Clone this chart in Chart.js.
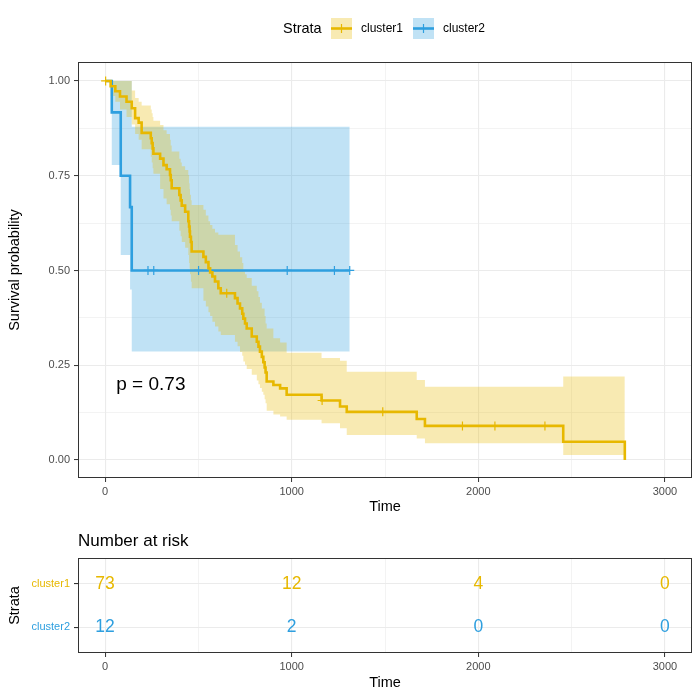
<!DOCTYPE html>
<html>
<head>
<meta charset="utf-8">
<script src="https://cdn.jsdelivr.net/npm/chart.js@4.4.1/dist/chart.umd.min.js"></script>
<style>
  body { margin: 0; background: #fff; }
  #wrap { position: relative; width: 700px; height: 700px; }
  canvas { position: absolute; left: 0; }
</style>
</head>
<body>
<div id="wrap">
  <canvas id="km" width="700" height="520" style="top:0"></canvas>
  <canvas id="risk" width="700" height="180" style="top:520px"></canvas>
</div>
<script>
// strata + colours
const strata = ['cluster1', 'cluster2'];
const colors = ['#E7B800', '#2E9FDF'];
const bands = ['rgba(231,184,0,0.3)', 'rgba(46,159,223,0.3)'];

// cluster1 KM curve (time, survival, 95% CI)
const c1Time  = [0,30,55,80,115,143,161,180,196,245,250,255,259,295,313,330,348,352,357,398,405,411,429,446,450,453,455,460,464,527,540,554,563,575,589,607,620,696,710,723,735,741,750,759,786,813,822,830,840,848,855,860,866,902,938,973,1160,1259,1295,1670,1714,2455,2785];
const c1Surv  = [1,0.986,0.973,0.959,0.945,0.928,0.902,0.89,0.863,0.849,0.836,0.822,0.808,0.795,0.778,0.767,0.752,0.738,0.717,0.699,0.685,0.671,0.655,0.63,0.616,0.603,0.589,0.575,0.55,0.536,0.522,0.506,0.495,0.484,0.471,0.453,0.44,0.427,0.413,0.4,0.386,0.373,0.36,0.347,0.326,0.312,0.299,0.286,0.272,0.258,0.244,0.231,0.207,0.198,0.189,0.172,0.157,0.141,0.127,0.108,0.09,0.048,0];
const c1Upper = [1,1,1,1,1,0.975,0.955,0.945,0.935,0.925,0.915,0.905,0.895,0.884,0.87,0.86,0.845,0.83,0.814,0.795,0.785,0.775,0.765,0.752,0.73,0.715,0.7,0.685,0.673,0.66,0.645,0.63,0.62,0.61,0.6,0.594,0.594,0.567,0.55,0.535,0.52,0.497,0.49,0.48,0.46,0.445,0.43,0.415,0.4,0.4,0.38,0.36,0.347,0.321,0.31,0.283,0.269,0.262,0.233,0.211,0.193,0.22,0.22];
const c1Lower = [1,0.96,0.945,0.925,0.905,0.885,0.86,0.845,0.82,0.8,0.785,0.77,0.755,0.715,0.69,0.675,0.66,0.645,0.63,0.605,0.59,0.575,0.56,0.541,0.52,0.505,0.49,0.47,0.453,0.42,0.405,0.39,0.38,0.365,0.352,0.339,0.33,0.312,0.3,0.285,0.275,0.26,0.251,0.24,0.225,0.21,0.2,0.19,0.18,0.172,0.16,0.15,0.13,0.12,0.115,0.106,0.097,0.084,0.066,0.057,0.044,0.013,0.013];
const c1Censor = [3,652,1163,1488,1915,2089,2357];

// cluster2 KM curve
const c2Time  = [0,36,84,134,143,1311];
const c2Surv  = [1,0.917,0.75,0.667,0.5,0.5];
const c2Upper = [1,1,1,1,0.879,0.879];
const c2Lower = [1,0.778,0.541,0.45,0.286,0.286];
const c2Censor = [230,261,501,976,1229,1311];

// number at risk table
const riskTimes = [0,1000,2000,3000];
const risk1 = [73,12,4,0];
const risk2 = [12,2,0,0];

const xTicks = [0,500,1000,1500,2000,2500,3000];
const yTicks = [0,0.125,0.25,0.375,0.5,0.625,0.75,0.875,1];
const pValue = 'p = 0.73';

const FONT = '"Liberation Sans", Arial, Helvetica, sans-serif';

function survAt(times, surv, t) {
  let v = surv[0];
  for (let i = 0; i < times.length; i++) if (times[i] <= t) v = surv[i];
  return v;
}
const pts = (xs, ys) => xs.map((x, i) => ({x: x, y: ys[i]}));
const isMajorX = v => v % 1000 === 0;
const isMajorY = v => Math.abs(v * 4 - Math.round(v * 4)) < 1e-9;

const curves = [
  {time: c1Time, surv: c1Surv, up: c1Upper, lo: c1Lower, cens: c1Censor},
  {time: c2Time, surv: c2Surv, up: c2Upper, lo: c2Lower, cens: c2Censor}
];

const datasets = [];
curves.forEach((c, k) => {
  datasets.push({
    data: pts(c.time, c.up), stepped: 'before', fill: '+1',
    backgroundColor: bands[k], borderColor: 'transparent', borderWidth: 0,
    pointRadius: 0, order: 3
  });
  datasets.push({
    data: pts(c.time, c.lo), stepped: 'before', fill: false,
    borderColor: 'transparent', borderWidth: 0, pointRadius: 0, order: 3
  });
});
curves.forEach((c, k) => {
  datasets.push({
    data: pts(c.time, c.surv), stepped: 'before', fill: false,
    borderColor: colors[k], borderWidth: 2.6, pointRadius: 0, order: 1
  });
  datasets.push({
    data: c.cens.map(t => ({x: t, y: survAt(c.time, c.surv, t)})),
    showLine: false, pointStyle: 'cross', pointRadius: 4.5,
    pointBorderWidth: 1.2, borderColor: colors[k], backgroundColor: colors[k], order: 0
  });
});

function gridOpts(isMajor) {
  return {
    color: '#EBEBEB',
    lineWidth: ctx => (ctx.tick && !isMajor(ctx.tick.value)) ? 0.6 : 1.1,
    drawTicks: true,
    tickLength: 4,
    tickColor: ctx => (ctx.tick && !isMajor(ctx.tick.value)) ? 'rgba(0,0,0,0)' : '#333333',
    tickWidth: 1
  };
}

const frame = {
  id: 'frame',
  afterDraw(chart) {
    const a = chart.chartArea, ctx = chart.ctx;
    ctx.save();
    ctx.strokeStyle = '#333333';
    ctx.lineWidth = 1;
    ctx.strokeRect(Math.round(a.left) + 0.5, Math.round(a.top) + 0.5,
      Math.round(a.right - a.left) - 1, Math.round(a.bottom - a.top) - 1);
    ctx.restore();
  }
};

const kmExtras = {
  id: 'kmExtras',
  afterDraw(chart) {
    const ctx = chart.ctx, xs = chart.scales.x, ys = chart.scales.y;
    ctx.save();
    // p-value
    ctx.fillStyle = '#000';
    ctx.font = '19px ' + FONT;
    ctx.textAlign = 'left';
    ctx.textBaseline = 'middle';
    ctx.fillText(pValue, xs.getPixelForValue(60), ys.getPixelForValue(0.198));
    // legend
    ctx.font = '14.5px ' + FONT;
    ctx.fillText('Strata', 283, 29);
    let x = 331;
    strata.forEach((s, k) => {
      ctx.fillStyle = bands[k];
      ctx.fillRect(x, 18, 21, 21);
      ctx.strokeStyle = colors[k];
      ctx.lineWidth = 2.6;
      ctx.beginPath(); ctx.moveTo(x, 28.5); ctx.lineTo(x + 21, 28.5); ctx.stroke();
      ctx.lineWidth = 1.2;
      ctx.beginPath(); ctx.moveTo(x + 10.5, 24); ctx.lineTo(x + 10.5, 33); ctx.stroke();
      ctx.fillStyle = '#000';
      ctx.font = '12px ' + FONT;
      ctx.fillText(s, x + 30, 29);
      x += 82;
    });
    ctx.restore();
  }
};

new Chart(document.getElementById('km'), {
  type: 'line',
  data: {datasets: datasets},
  options: {
    responsive: false, animation: false, devicePixelRatio: 1,
    layout: {padding: {top: 62, right: 8, left: 0, bottom: 0}},
    plugins: {legend: {display: false}, tooltip: {enabled: false}, filler: {propagate: false}},
    scales: {
      x: {
        type: 'linear', min: -145, max: 3145,
        afterBuildTicks: s => { s.ticks = xTicks.map(v => ({value: v})); },
        afterFit: s => { s.height = 42; },
        grid: gridOpts(isMajorX),
        border: {display: false},
        ticks: {
          color: '#4D4D4D', font: {size: 11, family: FONT}, padding: 3,
          maxRotation: 0, autoSkip: false,
          callback: v => isMajorX(v) ? String(v) : ''
        },
        title: {display: true, text: 'Time', color: '#000', font: {size: 14.5, family: FONT}, padding: {top: 0, bottom: 4.5}}
      },
      y: {
        type: 'linear', min: -0.0475, max: 1.05,
        afterBuildTicks: s => { s.ticks = yTicks.map(v => ({value: v})); },
        afterFit: s => { s.width = 78; },
        grid: gridOpts(isMajorY),
        border: {display: false},
        ticks: {
          color: '#4D4D4D', font: {size: 11, family: FONT}, padding: 4,
          callback: v => isMajorY(v) ? v.toFixed(2) : ''
        },
        title: {display: true, text: 'Survival probability', color: '#000', font: {size: 14.5, family: FONT}, padding: {top: 6.5, bottom: 0}}
      }
    }
  },
  plugins: [frame, kmExtras]
});

// risk table
const riskRows = [risk1, risk2];
const riskExtras = {
  id: 'riskExtras',
  afterDraw(chart) {
    const ctx = chart.ctx, xs = chart.scales.x, ys = chart.scales.y;
    ctx.save();
    ctx.fillStyle = '#000';
    ctx.font = '17px ' + FONT;
    ctx.textAlign = 'left';
    ctx.textBaseline = 'middle';
    ctx.fillText('Number at risk', chart.chartArea.left, 21);
    ctx.font = '17.5px ' + FONT;
    ctx.textAlign = 'center';
    riskRows.forEach((row, k) => {
      ctx.fillStyle = colors[k];
      row.forEach((n, i) => {
        ctx.fillText(String(n), xs.getPixelForValue(riskTimes[i]), ys.getPixelForValue(2 - k));
      });
    });
    ctx.restore();
  }
};

new Chart(document.getElementById('risk'), {
  type: 'scatter',
  data: {datasets: [{data: [], pointRadius: 0}]},
  options: {
    responsive: false, animation: false, devicePixelRatio: 1,
    layout: {padding: {top: 38, right: 8, left: 0, bottom: 0}},
    plugins: {legend: {display: false}, tooltip: {enabled: false}},
    scales: {
      x: {
        type: 'linear', min: -145, max: 3145,
        afterBuildTicks: s => { s.ticks = xTicks.map(v => ({value: v})); },
        afterFit: s => { s.height = 47; },
        grid: gridOpts(isMajorX),
        border: {display: false},
        ticks: {
          color: '#4D4D4D', font: {size: 11, family: FONT}, padding: 3,
          maxRotation: 0, autoSkip: false,
          callback: v => isMajorX(v) ? String(v) : ''
        },
        title: {display: true, text: 'Time', color: '#000', font: {size: 14.5, family: FONT}, padding: {top: 0, bottom: 8.5}}
      },
      y: {
        type: 'linear', min: 0.4, max: 2.6,
        afterBuildTicks: s => { s.ticks = [1, 2].map(v => ({value: v})); },
        afterFit: s => { s.width = 78; },
        grid: {color: '#EBEBEB', lineWidth: 1.1, tickLength: 4, tickColor: '#333333'},
        border: {display: false},
        ticks: {
          color: ctx => colors[2 - ctx.tick.value], font: {size: 11, family: FONT}, padding: 4,
          callback: v => strata[2 - v]
        },
        title: {display: true, text: 'Strata', color: '#000', font: {size: 14.5, family: FONT}, padding: {top: 6.5, bottom: 0}}
      }
    }
  },
  plugins: [frame, riskExtras]
});
</script>
</body>
</html>
